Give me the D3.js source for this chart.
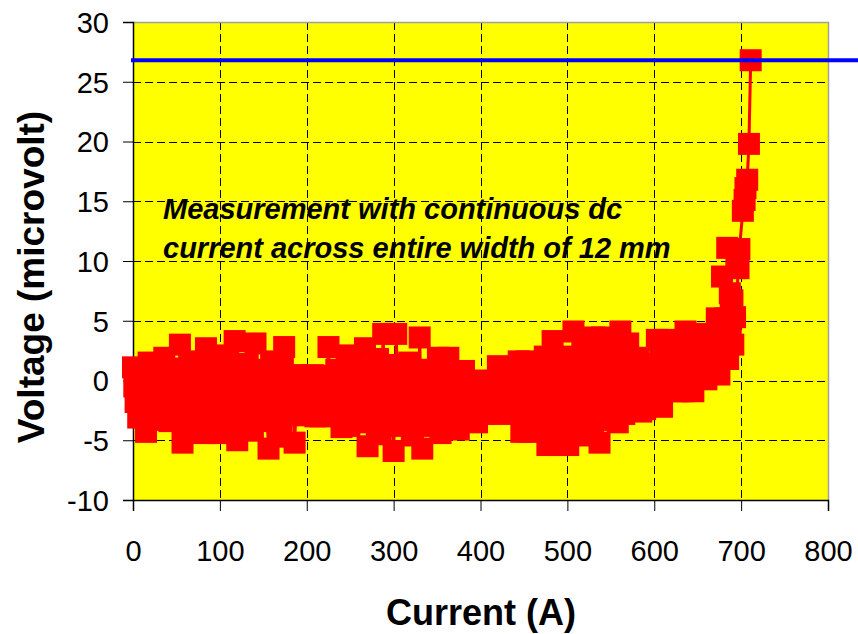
<!DOCTYPE html>
<html>
<head>
<meta charset="utf-8">
<script src="https://cdn.jsdelivr.net/npm/d3@7"></script>
<style>
  body { margin: 0; background: #ffffff; }
  svg { display: block; }
  text { font-family: "Liberation Sans", Arial, sans-serif; }
</style>
</head>
<body>
<svg id="chart" width="858" height="634"></svg>
<script>
// Transport current sweep (A) and measured voltage (microvolt), first channel of readings
const currentA = [
  0, 3, 6, 9, 12, 15, 18, 21, 24, 27,
  30, 33, 36, 39, 42, 45, 48, 51, 54, 57,
  60, 63, 66, 69, 72, 75, 78, 81, 84, 87,
  90, 93, 96, 99, 102, 105, 108, 111, 114, 117,
  120, 123, 126, 129, 132, 135, 138, 141, 144, 147,
  150, 153, 156, 159, 162, 165, 168, 171, 174, 177,
  180, 183, 186, 189, 192, 195, 198, 201, 204, 207,
  210, 213, 216, 219, 222, 225, 228, 231, 234, 237,
  240, 243, 246, 249, 252, 255, 258, 261, 264, 267,
  270, 273, 276, 279, 282, 285, 288, 291, 294, 297,
  300, 303, 306, 309, 312, 315, 318, 321, 324, 327,
  330, 333, 336, 339, 342, 345, 348, 351, 354, 357,
  360, 363, 366, 369, 372, 375, 378, 381, 384, 387,
  390, 393, 396, 399, 402, 405, 408, 411, 414, 417,
  420, 423, 426, 429, 432, 435, 438, 441, 444, 447,
  450, 453, 456, 459, 462, 465, 468, 471, 474, 477,
  480, 483, 486, 489, 492, 495, 498, 501, 504, 507,
  510, 513, 516, 519, 522, 525, 528, 531, 534, 537,
  540, 543, 546, 549, 552, 555, 558, 561, 564, 567,
  570, 573, 576, 579, 582, 585, 588, 591, 594, 597,
  600, 603, 606, 609, 612, 615, 618, 621, 624, 627,
  630, 633, 636, 639, 642, 645, 648, 651, 654, 657,
  660, 663, 666, 669,
  672, 675, 678, 680, 682, 684, 685, 687, 688, 690,
  691, 693, 697, 698, 702, 704, 705, 707, 709, 711
];
const voltageUV = [
  1.1, -1.8, -3.1, -0.4, 0.9, -4.3, 1.5, -1.0, 0.3, -2.6,
  0.6, -3.0, 1.9, -1.5, -3.4, 0.2, 1.0, -2.4, 3.0, -5.2,
  -1.2, 0.8, -3.0, 1.6, -0.5, -2.2, 0.4, -4.4, 2.7, -1.6,
  0.2, -2.8, 2.1, -4.4, -0.7, 1.2, -2.0, 0.5, -3.3, 3.3,
  -5.0, -1.3, 0.9, -2.6, 1.4, -0.4, -4.2, 3.1, -1.8, 0.3,
  -2.2, 0.6, -5.7, 1.6, -1.0, -3.1, 0.2, -4.7, 2.8, -1.5,
  -0.6, 0.1, -5.2, 0.45, -2.0, -0.9, 0.4, -2.5, -1.3, 0.45,
  -3.0, -0.4, -3.0, 0.2, -1.8, 2.8, -0.9, -2.7, 0.9, -1.6,
  -3.9, 0.7, 2.1, -3.8, -1.0, 1.3, -2.6, -0.2, 0.5, 2.7,
  -5.5, -1.4, 0.6, -3.0, 1.8, -4.5, 3.9, -2.2, 0.0, -1.1,
  -5.9, 3.9, -1.0, 0.8, -3.6, -0.3, 1.5, -4.6, -1.9, 0.4,
  3.6, -5.7, -0.8, 0.9, -2.7, -1.3, 0.3, 1.9, -4.4, -2.0,
  -0.5, 1.9, -3.2, -1.1, 0.3, -4.1, -2.3, 0.8, -1.4, -3.0,
  -0.6, -2.4, -3.5, 0.0, -1.5, -2.8, -0.3, -2.0, -0.8, -2.6,
  1.2, -2.8, -1.0, 0.2, -2.2, -0.5, 0.8, -1.6, 1.6, -4.3,
  -0.2, 1.6, -4.3, -1.8, 0.6, -2.9, -0.6, 1.0, 2.0, -5.4,
  -1.7, 3.3, -0.4, -5.4, 1.2, -2.6, 0.3, -5.4, -1.0, 4.1,
  -2.1, 1.7, -0.2, -4.6, 2.4, -1.5, 0.6, 3.6, -3.3, -5.2,
  3.6, -0.7, 1.4, -2.8, 0.2, 2.2, -3.5, 4.1, -1.2, 0.9,
  3.1, -1.9, 0.4, -0.8, 1.9, -2.6, -0.2, 1.1, -1.8, 0.5,
  -1.4, 3.4, 0.8, -2.2, 3.4, -0.6, 1.6, -0.2, 2.2, -0.9,
  1.3, -0.9, 4.1, 0.5, 2.6, -0.9, 1.8, 0.6, 3.9, 1.2,
  0.1, 2.4, 0.9, 3.5,
  5.2, 0.5, 8.7, 2.7, 5.2, 11.1, 1.8, 7.3, 4.0, 6.7,
  3.0, 5.3, 9.4, 11.0, 14.2, 15.1, 16.1, 16.8, 19.8, 26.8
];
// Interleaved readings taken between the steps above
const currentB = [
  1.5, 4.5, 7.5, 10.5, 13.5, 16.5, 19.5, 22.5, 25.5, 28.5,
  31.5, 34.5, 37.5, 40.5, 43.5, 46.5, 49.5, 52.5, 55.5, 58.5,
  61.5, 64.5, 67.5, 70.5, 73.5, 76.5, 79.5, 82.5, 85.5, 88.5,
  91.5, 94.5, 97.5, 100.5, 103.5, 106.5, 109.5, 112.5, 115.5, 118.5,
  121.5, 124.5, 127.5, 130.5, 133.5, 136.5, 139.5, 142.5, 145.5, 148.5,
  151.5, 154.5, 157.5, 160.5, 163.5, 166.5, 169.5, 172.5, 175.5, 178.5,
  181.5, 184.5, 187.5, 190.5, 193.5, 196.5, 199.5, 202.5, 205.5, 208.5,
  211.5, 214.5, 217.5, 220.5, 223.5, 226.5, 229.5, 232.5, 235.5, 238.5,
  241.5, 244.5, 247.5, 250.5, 253.5, 256.5, 259.5, 262.5, 265.5, 268.5,
  271.5, 274.5, 277.5, 280.5, 283.5, 286.5, 289.5, 292.5, 295.5, 298.5,
  301.5, 304.5, 307.5, 310.5, 313.5, 316.5, 319.5, 322.5, 325.5, 328.5,
  331.5, 334.5, 337.5, 340.5, 343.5, 346.5, 349.5, 352.5, 355.5, 358.5,
  361.5, 364.5, 367.5, 370.5, 373.5, 376.5, 379.5, 382.5, 385.5, 388.5,
  391.5, 394.5, 397.5, 400.5, 403.5, 406.5, 409.5, 412.5, 415.5, 418.5,
  421.5, 424.5, 427.5, 430.5, 433.5, 436.5, 439.5, 442.5, 445.5, 448.5,
  451.5, 454.5, 457.5, 460.5, 463.5, 466.5, 469.5, 472.5, 475.5, 478.5,
  481.5, 484.5, 487.5, 490.5, 493.5, 496.5, 499.5, 502.5, 505.5, 508.5,
  511.5, 514.5, 517.5, 520.5, 523.5, 526.5, 529.5, 532.5, 535.5, 538.5,
  541.5, 544.5, 547.5, 550.5, 553.5, 556.5, 559.5, 562.5, 565.5, 568.5,
  571.5, 574.5, 577.5, 580.5, 583.5, 586.5, 589.5, 592.5, 595.5, 598.5,
  601.5, 604.5, 607.5, 610.5, 613.5, 616.5, 619.5, 622.5, 625.5, 628.5,
  631.5, 634.5, 637.5, 640.5, 643.5, 646.5, 649.5, 652.5, 655.5, 658.5,
  661.5, 664.5, 667.5
];
const voltageB = [
  -0.5, 0.4, -2.0, -1.2, 0.2, -2.8, -0.2, -3.3, 0.9, -1.4,
  -2.2, 0.4, -0.9, -3.0, 0.8, -1.8, -0.4, -3.2, 0.3, -1.7,
  -3.5, 0.0, -1.9, -0.8, -3.6, 1.0, -2.6, -0.1, -3.1, 0.6,
  -1.1, -3.7, 0.9, -1.9, -3.0, -0.3, 1.5, -3.8, -1.2, 0.1,
  -2.9, 0.4, -3.6, -1.0, -2.2, 0.6, -1.5, -3.2, 0.9, -2.7,
  -0.9, -3.4, -1.8, 0.3, -2.6, -0.6, -3.9, 1.0, -0.8, -2.9,
  -2.3, -1.5, -2.8, -0.3, -2.9, -1.7, -0.2, -2.9, -0.6, -2.2,
  -1.2, -2.4, 0.1, -2.9, -0.7, -2.1, 0.4, -1.5, -2.9, 0.2,
  -2.3, -0.5, -3.4, 0.9, -2.0, -3.1, 0.2, -1.3, -3.5, -0.4,
  -3.3, 0.8, -2.1, -0.6, -3.8, 0.5, -1.7, -3.6, 1.3, -2.8,
  -2.5, -0.2, -3.8, 1.0, -1.6, -3.0, 0.1, -2.4, -0.8, -3.3,
  -1.6, 0.5, -3.5, -2.2, 0.6, -3.8, -1.0, -2.8, 0.2, -3.4,
  -2.6, -0.6, -1.9, -3.5, 0.2, -2.9, -0.9, -2.0, -0.4, -2.7,
  -1.3, -3.2, -0.9, -2.5, -0.2, -1.8, -2.7, -0.5, -1.7, -0.3,
  -1.9, 0.6, -2.6, -0.8, 0.9, -2.7, -1.2, -0.1, -2.5, -3.2,
  -2.0, -0.7, 0.7, -3.5, -1.4, 0.3, -2.4, -3.9, -0.2, -2.6,
  0.5, -3.4, -1.6, 1.9, -3.9, -0.9, 2.0, -2.9, 0.8, -1.8,
  -3.7, 0.1, 2.5, -2.3, -0.8, 1.6, -3.8, -1.2, 2.0, -2.4,
  0.3, -2.6, 2.7, -1.1, -3.2, 1.2, -0.4, 2.5, -2.8, -0.3,
  -1.3, 1.2, -2.3, 0.1, -1.2, 1.0, -2.4, -0.5, 1.4, -1.6,
  0.4, -1.8, 2.3, -0.7, 1.2, 0.0, 2.7, 0.6, -0.4, 1.5,
  -0.2, 2.9, 0.6, 1.9, -0.4, 2.2, 1.1, 3.0, 0.8, 2.1,
  1.6, 0.7, 2.2
];
// Voltage level marked by the horizontal reference line
const criterionUV = [26.8];

const xTicks = [0, 100, 200, 300, 400, 500, 600, 700, 800];
const yTicks = [-10, -5, 0, 5, 10, 15, 20, 25, 30];
const noteLines = ["Measurement with continuous dc", "current across entire width of 12 mm"];
const xTitle = "Current (A)";
const yTitle = "Voltage (microvolt)";

// Merge both reading channels into one sweep ordered by current
const points = currentA.map((c, i) => ({ c, v: voltageUV[i] }))
  .concat(currentB.map((c, i) => ({ c, v: voltageB[i] })))
  .sort((a, b) => a.c - b.c);

const svg = d3.select("#chart");
const plot = { left: 133, right: 828, top: 22, bottom: 500 };

const x = d3.scaleLinear().domain([0, 800]).range([plot.left, plot.right]);
const y = d3.scaleLinear().domain([-10, 30]).range([plot.bottom, plot.top]);

// Plot area fill
svg.append("rect")
  .attr("x", plot.left).attr("y", plot.top)
  .attr("width", plot.right - plot.left).attr("height", plot.bottom - plot.top)
  .attr("fill", "#ffff00");

// Dashed gridlines
const grid = svg.append("g").attr("stroke", "#000").attr("stroke-width", 1)
  .attr("stroke-dasharray", "8,4").attr("shape-rendering", "crispEdges");
grid.selectAll("line.h").data(yTicks.filter(t => t > -10 && t < 30)).join("line")
  .attr("class", "h")
  .attr("x1", plot.left).attr("x2", plot.right)
  .attr("y1", d => Math.round(y(d)) + 0.5).attr("y2", d => Math.round(y(d)) + 0.5);
grid.selectAll("line.v").data(xTicks.filter(t => t > 0 && t < 800)).join("line")
  .attr("class", "v")
  .attr("y1", plot.top).attr("y2", plot.bottom)
  .attr("x1", d => Math.round(x(d)) + 0.5).attr("x2", d => Math.round(x(d)) + 0.5);

// Plot frame: grey top/right edges
svg.append("path")
  .attr("d", `M${plot.left},${plot.top + 0.5}H${plot.right + 0.5}V${plot.bottom}`)
  .attr("fill", "none").attr("stroke", "#a0a0a0").attr("stroke-width", 1.5);

// Axes (tick labels use a plain hyphen for negatives)
const plainInt = d => String(d);
const yAxis = d3.axisLeft(y).tickValues(yTicks).tickSize(10).tickPadding(14).tickFormat(plainInt);
const xAxis = d3.axisBottom(x).tickValues(xTicks).tickSize(11).tickPadding(29).tickFormat(plainInt);

const gy = svg.append("g").attr("transform", `translate(${plot.left},0)`).call(yAxis);
const gx = svg.append("g").attr("transform", `translate(0,${plot.bottom})`).call(xAxis);
[gy, gx].forEach(g => {
  g.select(".domain").attr("stroke", "#000").attr("stroke-width", 1.5);
  g.selectAll(".tick line").attr("stroke", "#000").attr("stroke-width", 1);
  g.selectAll(".tick text").attr("fill", "#000")
    .style("font-size", "29px").style("font-family", "'Liberation Sans', Arial, sans-serif");
});
gy.selectAll(".tick text").attr("dy", "0.36em");

// Measured series: connecting line and square markers
const line = d3.line().x(d => x(d.c)).y(d => y(d.v));
svg.append("path").datum(points)
  .attr("d", line)
  .attr("fill", "none").attr("stroke", "#ff0000").attr("stroke-width", 3)
  .attr("stroke-linejoin", "round");

const side = 22;
svg.append("g").selectAll("rect").data(points).join("rect")
  .attr("x", d => x(d.c) - side / 2).attr("y", d => y(d.v) - side / 2)
  .attr("width", side).attr("height", side)
  .attr("fill", "#ff0000");

// Horizontal reference level
svg.append("g").selectAll("line").data(criterionUV).join("line")
  .attr("x1", plot.left - 2).attr("x2", 858)
  .attr("y1", d => y(d)).attr("y2", d => y(d))
  .attr("stroke", "#0000ff").attr("stroke-width", 4);

// Annotation
svg.append("text")
  .attr("x", 163).attr("y", 219)
  .attr("font-size", 29).attr("font-weight", "bold").attr("font-style", "italic")
  .attr("fill", "#000")
  .selectAll("tspan").data(noteLines).join("tspan")
  .attr("x", 163).attr("dy", (d, i) => i === 0 ? 0 : 39)
  .text(d => d);

// Axis titles
svg.append("text")
  .attr("x", 481).attr("y", 625)
  .attr("text-anchor", "middle")
  .attr("font-size", 36).attr("font-weight", "bold").attr("fill", "#000")
  .text(xTitle);

svg.append("text")
  .attr("transform", "translate(44,277) rotate(-90)")
  .attr("text-anchor", "middle")
  .attr("font-size", 37).attr("font-weight", "bold").attr("fill", "#000")
  .text(yTitle);
</script>
</body>
</html>
